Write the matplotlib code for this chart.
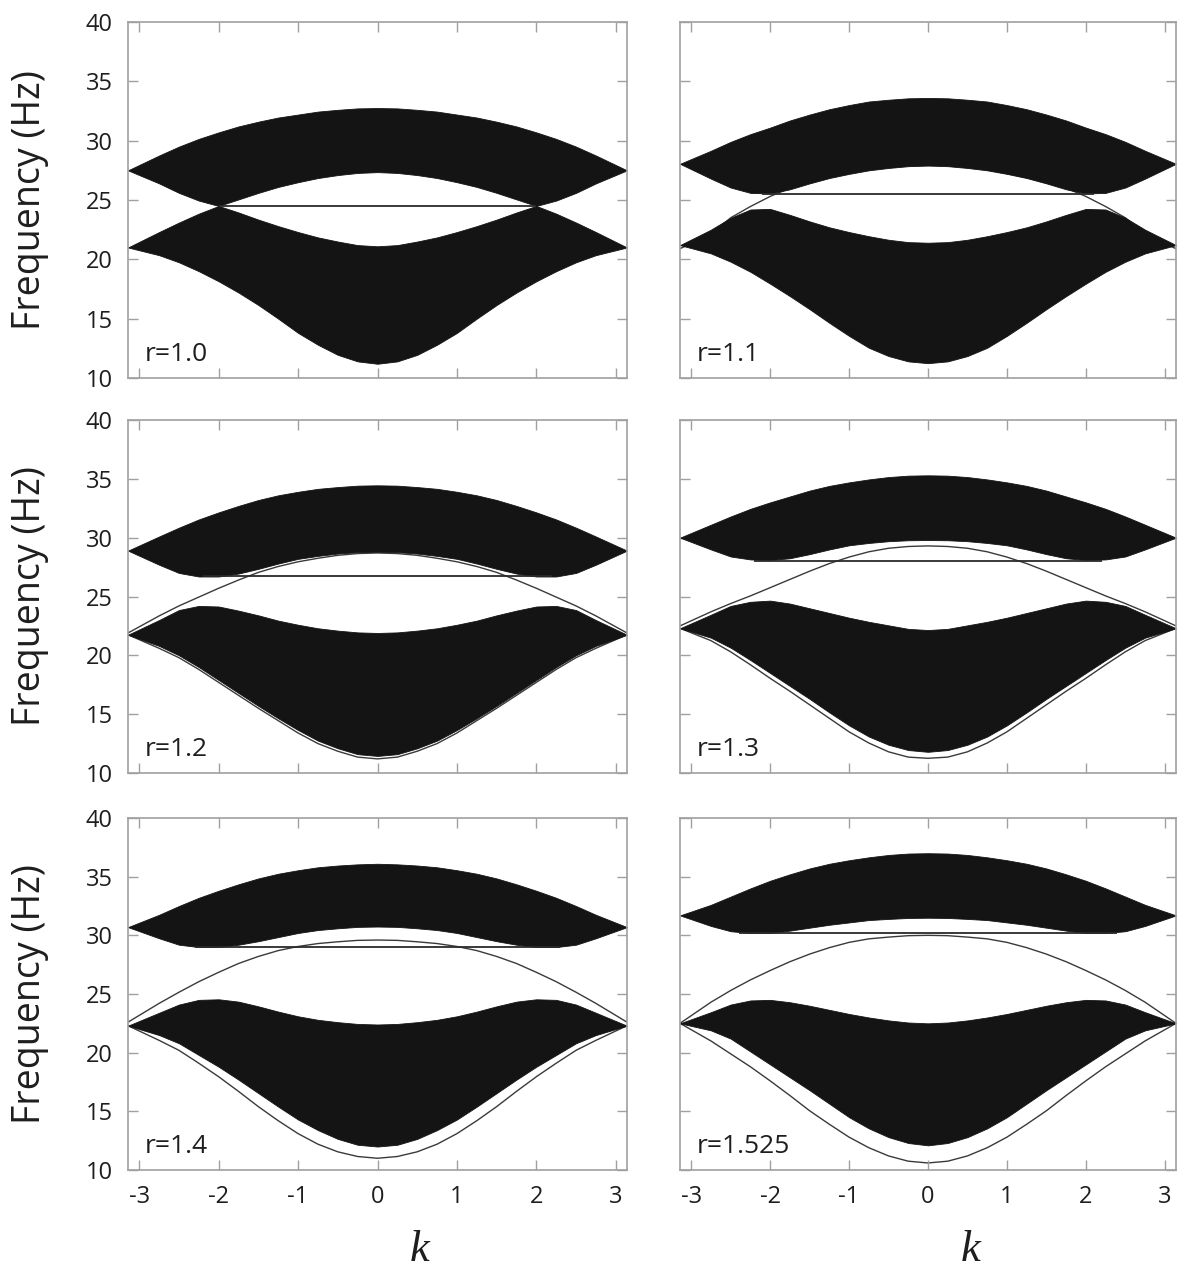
import numpy as np
import matplotlib.pyplot as plt

plt.rcParams['font.family'] = ['Open Sans', 'DejaVu Sans']
plt.rcParams['axes.unicode_minus'] = False

# wavenumber samples (same for every panel)
k = [-3.1416, -2.75, -2.5, -2.25, -2.0, -1.75, -1.5, -1.25, -1.0, -0.75, -0.5, -0.25, 0.0,
     0.25, 0.5, 0.75, 1.0, 1.25, 1.5, 1.75, 2.0, 2.25, 2.5, 2.75, 3.1416]

r_labels = ["r=1.0", "r=1.1", "r=1.2", "r=1.3", "r=1.4", "r=1.525"]

# upper band, top edge
upper_top = [
    [27.5, 28.75, 29.5, 30.15, 30.7, 31.2, 31.6, 31.95, 32.2, 32.45, 32.6, 32.72, 32.75,
     32.72, 32.6, 32.45, 32.2, 31.95, 31.6, 31.2, 30.7, 30.15, 29.5, 28.75, 27.5],
    [28.05, 29.15, 29.9, 30.55, 31.1, 31.7, 32.2, 32.65, 33.0, 33.3, 33.45, 33.57, 33.6,
     33.57, 33.45, 33.3, 33.0, 32.65, 32.2, 31.7, 31.1, 30.55, 29.9, 29.15, 28.05],
    [28.9, 30.1, 30.85, 31.55, 32.15, 32.7, 33.2, 33.6, 33.9, 34.15, 34.3, 34.42, 34.45,
     34.42, 34.3, 34.15, 33.9, 33.6, 33.2, 32.7, 32.15, 31.55, 30.85, 30.1, 28.9],
    [30.0, 31.1, 31.8, 32.45, 33.0, 33.5, 34.0, 34.4, 34.7, 34.95, 35.15, 35.27, 35.3,
     35.27, 35.15, 34.95, 34.7, 34.4, 34.0, 33.5, 33.0, 32.45, 31.8, 31.1, 30.0],
    [30.7, 31.75, 32.5, 33.2, 33.8, 34.35, 34.85, 35.25, 35.55, 35.8, 35.95, 36.05, 36.1,
     36.05, 35.95, 35.8, 35.55, 35.25, 34.85, 34.35, 33.8, 33.2, 32.5, 31.75, 30.7],
    [31.7, 32.6, 33.3, 34.0, 34.65, 35.2, 35.7, 36.1, 36.4, 36.65, 36.85, 36.97, 37.0,
     36.97, 36.85, 36.65, 36.4, 36.1, 35.7, 35.2, 34.65, 34.0, 33.3, 32.6, 31.7],
]
# upper band, bottom edge
upper_bot = [
    [27.5, 26.4, 25.6, 24.95, 24.5, 25.05, 25.6, 26.1, 26.5, 26.85, 27.1, 27.28, 27.35,
     27.28, 27.1, 26.85, 26.5, 26.1, 25.6, 25.05, 24.5, 24.95, 25.6, 26.4, 27.5],
    [28.05, 26.8, 26.05, 25.6, 25.55, 25.9, 26.4, 26.85, 27.2, 27.5, 27.7, 27.85, 27.9,
     27.85, 27.7, 27.5, 27.2, 26.85, 26.4, 25.9, 25.55, 25.6, 26.05, 26.8, 28.05],
    [28.9, 27.7, 27.0, 26.7, 26.7, 26.95, 27.35, 27.8, 28.2, 28.45, 28.65, 28.77, 28.8,
     28.77, 28.65, 28.45, 28.2, 27.8, 27.35, 26.95, 26.7, 26.7, 27.0, 27.7, 28.9],
    [30.0, 29.0, 28.4, 28.15, 28.1, 28.25, 28.6, 29.0, 29.35, 29.55, 29.7, 29.78, 29.8,
     29.78, 29.7, 29.55, 29.35, 29.0, 28.6, 28.25, 28.1, 28.15, 28.4, 29.0, 30.0],
    [30.7, 29.75, 29.2, 29.0, 29.0, 29.2, 29.5, 29.85, 30.2, 30.45, 30.6, 30.72, 30.75,
     30.72, 30.6, 30.45, 30.2, 29.85, 29.5, 29.2, 29.0, 29.0, 29.2, 29.75, 30.7],
    [31.7, 30.8, 30.35, 30.2, 30.2, 30.4, 30.65, 30.9, 31.1, 31.3, 31.4, 31.48, 31.5,
     31.48, 31.4, 31.3, 31.1, 30.9, 30.65, 30.4, 30.2, 30.2, 30.35, 30.8, 31.7],
]
# lower band, top edge
lower_top = [
    [21.0, 22.3, 23.1, 23.85, 24.5, 23.95, 23.35, 22.8, 22.3, 21.85, 21.5, 21.2, 21.1,
     21.2, 21.5, 21.85, 22.3, 22.8, 23.35, 23.95, 24.5, 23.85, 23.1, 22.3, 21.0],
    [21.2, 22.5, 23.5, 24.2, 24.25, 23.75, 23.2, 22.7, 22.3, 21.95, 21.65, 21.45, 21.4,
     21.45, 21.65, 21.95, 22.3, 22.7, 23.2, 23.75, 24.25, 24.2, 23.5, 22.5, 21.2],
    [21.75, 23.0, 23.85, 24.2, 24.15, 23.8, 23.4, 22.95, 22.6, 22.3, 22.1, 21.95, 21.9,
     21.95, 22.1, 22.3, 22.6, 22.95, 23.4, 23.8, 24.15, 24.2, 23.85, 23.0, 21.75],
    [22.3, 23.45, 24.2, 24.55, 24.65, 24.4, 24.0, 23.6, 23.2, 22.85, 22.55, 22.25, 22.15,
     22.25, 22.55, 22.85, 23.2, 23.6, 24.0, 24.4, 24.65, 24.55, 24.2, 23.45, 22.3],
    [22.3, 23.4, 24.1, 24.5, 24.55, 24.35, 23.95, 23.5, 23.1, 22.8, 22.6, 22.45, 22.4,
     22.45, 22.6, 22.8, 23.1, 23.5, 23.95, 24.35, 24.55, 24.5, 24.1, 23.4, 22.3],
    [22.5, 23.45, 24.1, 24.45, 24.5, 24.3, 24.0, 23.65, 23.3, 23.0, 22.75, 22.57, 22.5,
     22.57, 22.75, 23.0, 23.3, 23.65, 24.0, 24.3, 24.5, 24.45, 24.1, 23.45, 22.5],
]
# lower band, bottom edge
lower_bot = [
    [21.0, 20.35, 19.75, 19.0, 18.15, 17.2, 16.15, 15.0, 13.8, 12.8, 11.95, 11.4, 11.2,
     11.4, 11.95, 12.8, 13.8, 15.0, 16.15, 17.2, 18.15, 19.0, 19.75, 20.35, 21.0],
    [21.2, 20.5, 19.8, 18.95, 17.95, 16.9, 15.8, 14.65, 13.55, 12.55, 11.85, 11.4, 11.25,
     11.4, 11.85, 12.55, 13.55, 14.65, 15.8, 16.9, 17.95, 18.95, 19.8, 20.5, 21.2],
    [21.75, 20.8, 20.0, 19.0, 17.9, 16.8, 15.7, 14.65, 13.65, 12.75, 12.1, 11.6, 11.45,
     11.6, 12.1, 12.75, 13.65, 14.65, 15.7, 16.8, 17.9, 19.0, 20.0, 20.8, 21.75],
    [22.3, 21.5, 20.65, 19.6, 18.5, 17.4, 16.3, 15.15, 14.05, 13.1, 12.4, 11.95, 11.8,
     11.95, 12.4, 13.1, 14.05, 15.15, 16.3, 17.4, 18.5, 19.6, 20.65, 21.5, 22.3],
    [22.3, 21.5, 20.8, 19.8, 18.8, 17.7, 16.55, 15.4, 14.3, 13.4, 12.65, 12.15, 12.0,
     12.15, 12.65, 13.4, 14.3, 15.4, 16.55, 17.7, 18.8, 19.8, 20.8, 21.5, 22.3],
    [22.5, 21.9, 21.2, 20.1, 19.0, 17.9, 16.8, 15.65, 14.5, 13.55, 12.8, 12.3, 12.1,
     12.3, 12.8, 13.55, 14.5, 15.65, 16.8, 17.9, 19.0, 20.1, 21.2, 21.9, 22.5],
]
# edge state crossing the gap (None where absent)
dome = [
    None,
    [20.9, 22.1, 23.5, 24.45, 25.3, 26.0, 26.45, 26.9, 27.25, 27.55, 27.75, 27.9, 27.95,
     27.9, 27.75, 27.55, 27.25, 26.9, 26.45, 26.0, 25.3, 24.45, 23.5, 22.1, 20.9],
    [21.9, 23.35, 24.2, 24.95, 25.7, 26.4, 27.05, 27.55, 27.95, 28.25, 28.5, 28.65, 28.7,
     28.65, 28.5, 28.25, 27.95, 27.55, 27.05, 26.4, 25.7, 24.95, 24.2, 23.35, 21.9],
    [22.5, 23.7, 24.4, 25.05, 25.75, 26.45, 27.15, 27.8, 28.35, 28.8, 29.1, 29.25, 29.3,
     29.25, 29.1, 28.8, 28.35, 27.8, 27.15, 26.45, 25.75, 25.05, 24.4, 23.7, 22.5],
    [22.6, 24.2, 25.15, 26.05, 26.85, 27.6, 28.2, 28.7, 29.05, 29.3, 29.45, 29.57, 29.6,
     29.57, 29.45, 29.3, 29.05, 28.7, 28.2, 27.6, 26.85, 26.05, 25.15, 24.2, 22.6],
    [22.5, 24.3, 25.3, 26.2, 27.0, 27.75, 28.4, 28.95, 29.4, 29.7, 29.85, 29.97, 30.0,
     29.97, 29.85, 29.7, 29.4, 28.95, 28.4, 27.75, 27.0, 26.2, 25.3, 24.3, 22.5],
]
# edge state below the lower band
lower_edge = [
    None,
    None,
    [21.75, 20.6, 19.8, 18.8, 17.7, 16.6, 15.5, 14.45, 13.4, 12.5, 11.85, 11.35, 11.2,
     11.35, 11.85, 12.5, 13.4, 14.45, 15.5, 16.6, 17.7, 18.8, 19.8, 20.6, 21.75],
    [22.3, 21.25, 20.3, 19.2, 18.05, 16.95, 15.8, 14.65, 13.5, 12.55, 11.8, 11.35, 11.25,
     11.35, 11.8, 12.55, 13.5, 14.65, 15.8, 16.95, 18.05, 19.2, 20.3, 21.25, 22.3],
    [22.3, 21.05, 20.2, 19.1, 17.95, 16.7, 15.4, 14.2, 13.1, 12.2, 11.55, 11.15, 11.0,
     11.15, 11.55, 12.2, 13.1, 14.2, 15.4, 16.7, 17.95, 19.1, 20.2, 21.05, 22.3],
    [22.5, 21.0, 19.9, 18.8, 17.6, 16.35, 15.05, 13.9, 12.8, 11.9, 11.2, 10.75, 10.6,
     10.75, 11.2, 11.9, 12.8, 13.9, 15.05, 16.35, 17.6, 18.8, 19.9, 21.0, 22.5],
]
# flat band: frequency and k extent
flat_freq = [24.5, 25.5, 26.7, 28.05, 29.0, 30.2]
flat_kmax = [2.0, 2.1, 2.2, 2.2, 2.3, 2.4]

W, H = 1196, 1271
fig = plt.figure(figsize=(W / 100, H / 100), dpi=100)

col_left = [128, 680]
col_width = [499, 496]
row_top = [22, 420, 818]
row_height = [356, 353, 352]

band_color = '#141414'
gray = '#a0a0a0'
text_color = '#1e1e1e'

for i in range(6):
    row, col = divmod(i, 2)
    ax = fig.add_axes([col_left[col] / W, 1 - (row_top[row] + row_height[row]) / H,
                       col_width[col] / W, row_height[row] / H])

    if dome[i] is not None:
        ax.plot(k, dome[i], color='#3a3a3a', lw=1.0, zorder=1)
    if lower_edge[i] is not None:
        ax.plot(k, lower_edge[i], color='#3a3a3a', lw=1.0, zorder=1)

    ax.fill_between(k, upper_bot[i], upper_top[i], color=band_color, lw=0.6,
                    edgecolor=band_color, zorder=2)
    ax.fill_between(k, lower_bot[i], lower_top[i], color=band_color, lw=0.6,
                    edgecolor=band_color, zorder=2)
    ax.hlines(flat_freq[i], -flat_kmax[i], flat_kmax[i], color='#2a2a2a', lw=1.3, zorder=3)

    ax.set_xlim(-np.pi, np.pi)
    ax.set_ylim(10, 40)
    ax.set_xticks([-3, -2, -1, 0, 1, 2, 3])
    ax.set_yticks([10, 15, 20, 25, 30, 35, 40])
    ax.tick_params(direction='in', length=7, width=1, color=gray,
                   top=True, right=True, labelsize=17, labelcolor=text_color)
    ax.tick_params(axis='x', pad=11)
    ax.tick_params(axis='y', pad=11)
    for s in ax.spines.values():
        s.set_color(gray)
        s.set_linewidth(1.2)

    if col == 0:
        ax.set_ylabel('Frequency (Hz)', fontsize=27, color=text_color)
        ax.yaxis.set_label_coords(-0.158, 0.5)
    else:
        ax.tick_params(labelleft=False)
    if row == 2:
        ax.set_xlabel('k', fontsize=32, family='Liberation Serif', style='italic',
                      color=text_color)
        ax.xaxis.set_label_coords(0.585, -0.17)
    else:
        ax.tick_params(labelbottom=False)

    ax.text(0.034, 0.048, r_labels[i], transform=ax.transAxes, fontsize=19,
            color=text_color, ha='left', va='baseline', zorder=5)

fig.savefig('out.png', dpi=100)
